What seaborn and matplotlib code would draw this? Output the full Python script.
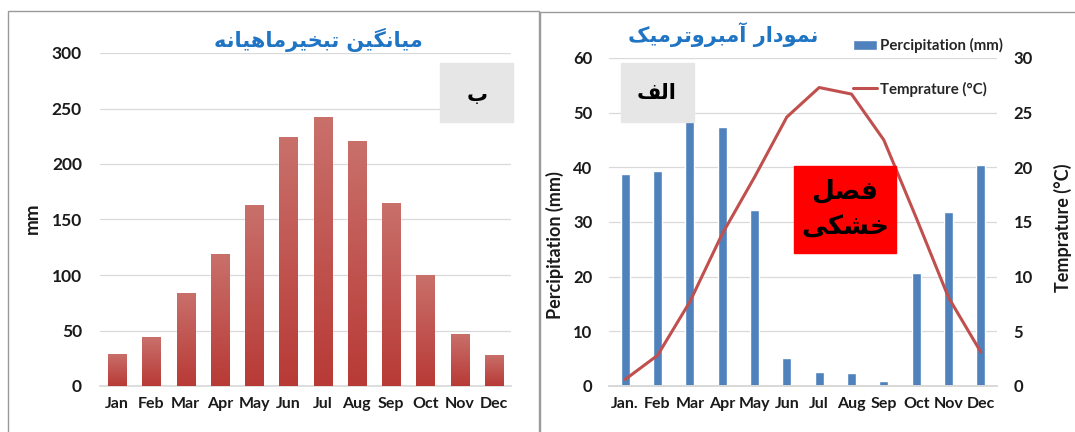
import numpy as np
import pandas as pd
import seaborn as sns
import matplotlib.pyplot as plt
from matplotlib.colors import LinearSegmentedColormap
from matplotlib.patches import Rectangle

# evaporation panel (ب)
evap_months = ["Jan", "Feb", "Mar", "Apr", "May", "Jun", "Jul", "Aug", "Sep", "Oct", "Nov", "Dec"]
evap_mm = [29, 44, 84, 119, 163, 224, 242, 221, 165, 100, 47, 28]

# ombrothermic panel (الف)
clim_months = ["Jan.", "Feb", "Mar", "Apr", "May", "Jun", "Jul", "Aug", "Sep", "Oct", "Nov", "Dec"]
precip_mm = [38.7, 39.3, 50.1, 47.4, 32.2, 5.1, 2.5, 2.3, 1.0, 20.7, 31.8, 40.5]
temp_c = [0.6, 2.8, 7.7, 13.9, 19.1, 24.6, 27.3, 26.7, 22.5, 15.4, 8.1, 3.1]

title_evap = "میانگین تبخیرماهیانه"
title_clim = "نمودار آمبروترمیک"
tag_evap = "ب"
tag_clim = "الف"
dry_season = ["فصل", "خشکی"]

# matplotlib does no arabic shaping, so pick presentation forms by hand
# (isolated, final, initial, medial); None = letter joins only to the right
FORMS = {
    "ا": ("\uFE8D", "\uFE8E", None, None),
    "آ": ("\uFE81", "\uFE82", None, None),
    "ب": ("\uFE8F", "\uFE90", "\uFE91", "\uFE92"),
    "ت": ("\uFE95", "\uFE96", "\uFE97", "\uFE98"),
    "خ": ("\uFEA5", "\uFEA6", "\uFEA7", "\uFEA8"),
    "د": ("\uFEA9", "\uFEAA", None, None),
    "ر": ("\uFEAD", "\uFEAE", None, None),
    "ش": ("\uFEB5", "\uFEB6", "\uFEB7", "\uFEB8"),
    "ص": ("\uFEB9", "\uFEBA", "\uFEBB", "\uFEBC"),
    "ف": ("\uFED1", "\uFED2", "\uFED3", "\uFED4"),
    "ل": ("\uFEDD", "\uFEDE", "\uFEDF", "\uFEE0"),
    "م": ("\uFEE1", "\uFEE2", "\uFEE3", "\uFEE4"),
    "ن": ("\uFEE5", "\uFEE6", "\uFEE7", "\uFEE8"),
    "ه": ("\uFEE9", "\uFEEA", "\uFEEB", "\uFEEC"),
    "و": ("\uFEED", "\uFEEE", None, None),
    "ی": ("\uFBFC", "\uFBFD", "\uFBFE", "\uFBFF"),
    "ک": ("\uFB8E", "\uFB8F", "\uFB90", "\uFB91"),
    "گ": ("\uFB92", "\uFB93", "\uFB94", "\uFB95"),
}


def fa(text):
    out = []
    for i, c in enumerate(text):
        if c not in FORMS:
            out.append(c)
            continue
        prev = text[i - 1] if i > 0 else None
        nxt = text[i + 1] if i + 1 < len(text) else None
        join_prev = prev in FORMS and FORMS[prev][2] is not None
        join_next = nxt in FORMS and FORMS[c][2] is not None
        iso, fin, ini, med = FORMS[c]
        if join_prev and join_next:
            out.append(med)
        elif join_prev:
            out.append(fin)
        elif join_next:
            out.append(ini)
        else:
            out.append(iso)
    return "".join(reversed(out))


sns.set_theme(style="white")
plt.rcParams["font.family"] = ["Lato", "DejaVu Sans"]
plt.rcParams["font.weight"] = "bold"

W, H = 1075, 432
fig = plt.figure(figsize=(W / 100, H / 100), dpi=100)


def fx(x):
    return x / W


def fy(y):
    return 1 - y / H


def box(x0, y0, x1, y1):
    return [fx(x0), fy(y1), fx(x1) - fx(x0), fy(y0) - fy(y1)]


# panel frames
fig.patches.append(Rectangle((fx(8), fy(440)), fx(539) - fx(8), fy(11) - fy(440),
                             transform=fig.transFigure, fill=False, ec="#9a9a9a", lw=1))
fig.patches.append(Rectangle((fx(540), fy(440)), fx(1090) - fx(540), fy(12) - fy(440),
                             transform=fig.transFigure, fill=False, ec="#9a9a9a", lw=1))

grid_c = "#d9d9d9"
ink = "#1a1a1a"

# ---------------- left: monthly evaporation ----------------
ax1 = fig.add_axes(box(100, 53, 511, 386))
df_e = pd.DataFrame({"month": evap_months, "mm": evap_mm})
sns.barplot(data=df_e, x="month", y="mm", color="#c0504d", width=0.53, ax=ax1,
            saturation=1, zorder=2)
grad = LinearSegmentedColormap.from_list("bar", ["#b83a36", "#c9706b"])
for p in ax1.patches:
    x0, y0 = p.get_x(), p.get_y()
    im = ax1.imshow(np.linspace(1, 0, 100).reshape(-1, 1), cmap=grad, aspect="auto",
                    extent=[x0, x0 + p.get_width(), y0, y0 + p.get_height()], zorder=3)
    im.set_clip_path(p)
ax1.set_xlim(-0.5, 11.5)
ax1.set_ylim(0, 300)
ax1.set_yticks(range(0, 301, 50))
ax1.grid(axis="y", color=grid_c, lw=0.9, zorder=0)
ax1.set_axisbelow(True)
for s in ["left", "right", "top"]:
    ax1.spines[s].set_visible(False)
ax1.spines["bottom"].set_color(grid_c)
ax1.tick_params(axis="both", length=0, colors=ink)
ax1.tick_params(axis="y", labelsize=12.5, pad=13)
ax1.tick_params(axis="x", labelsize=11.5, pad=8)
ax1.set_xlabel("")
ax1.set_ylabel("")
fig.text(fx(32), fy(218), "mm", rotation=90, ha="center", va="center", fontsize=13.5,
         fontweight="bold", color=ink)
fig.text(fx(318), fy(40), fa(title_evap), ha="center", va="center", fontsize=15,
         fontweight="bold", color="#1f74c4", family="DejaVu Sans")
fig.patches.append(Rectangle((fx(440), fy(122)), fx(513) - fx(440), fy(63) - fy(122),
                             transform=fig.transFigure, color="#e6e6e6", zorder=5))
fig.text(fx(477), fy(95), fa(tag_evap), ha="center", va="center", fontsize=15,
         fontweight="bold", color="black", family="DejaVu Sans", zorder=6)

# ---------------- right: ombrothermic diagram ----------------
ax2 = fig.add_axes(box(609, 58, 997, 386))
df_c = pd.DataFrame({"month": clim_months, "precip": precip_mm, "temp": temp_c})
sns.barplot(data=df_c, x="month", y="precip", color="#4f81bd", width=0.28, ax=ax2,
            saturation=1, label="Percipitation (mm)", zorder=2)
ax2.set_xlim(-0.5, 11.5)
ax2.set_ylim(0, 60)
ax2.set_yticks(range(0, 61, 10))
ax2.grid(axis="y", color=grid_c, lw=0.9, zorder=0)
ax2.set_axisbelow(True)

ax3 = ax2.twinx()
sns.lineplot(x=np.arange(len(temp_c)), y=df_c["temp"], ax=ax3, color="#c0504d", lw=2.2,
             label="Temprature (°C)", zorder=4)
ax3.set_ylim(0, 30)
ax3.set_yticks(range(0, 31, 5))
ax3.set_xlim(-0.5, 11.5)

for a in (ax2, ax3):
    for s in ["left", "right", "top"]:
        a.spines[s].set_visible(False)
    a.spines["bottom"].set_color(grid_c)
    a.tick_params(axis="both", length=0, colors=ink)
    a.tick_params(axis="y", labelsize=12)
    a.set_xlabel("")
    a.set_ylabel("")
ax2.tick_params(axis="y", pad=12)
ax3.tick_params(axis="y", pad=12)
ax2.tick_params(axis="x", labelsize=11.5, pad=8)

fig.text(fx(555), fy(245), "Percipitation (mm)", rotation=90, ha="center", va="center",
         fontsize=13, fontweight="bold", color=ink)
fig.text(fx(1063), fy(228), "Temprature (°C)", rotation=90, ha="center", va="center",
         fontsize=13, fontweight="bold", color=ink)

h2, l2 = ax2.get_legend_handles_labels()
h3, l3 = ax3.get_legend_handles_labels()
for a in (ax2, ax3):
    if a.get_legend() is not None:
        a.get_legend().remove()
fig.legend(h2 + h3, l2 + l3, loc="upper left", bbox_to_anchor=(fx(853), fy(38)),
           frameon=False, borderpad=0, borderaxespad=0,
           handlelength=1.6, handletextpad=0.2, labelspacing=1.9,
           prop={"weight": "bold", "size": 10.8})

fig.text(fx(723), fy(35), fa(title_clim), ha="center", va="center", fontsize=15,
         fontweight="bold", color="#1f74c4", family="DejaVu Sans")
fig.patches.append(Rectangle((fx(621), fy(122)), fx(694) - fx(621), fy(63) - fy(122),
                             transform=fig.transFigure, color="#e6e6e6", zorder=5))
fig.text(fx(657), fy(93), fa(tag_clim), ha="center", va="center", fontsize=15,
         fontweight="bold", color="black", family="DejaVu Sans", zorder=6)
fig.patches.append(Rectangle((fx(794), fy(253)), fx(896) - fx(794), fy(166) - fy(253),
                             transform=fig.transFigure, color="#ff0000", zorder=5))
fig.text(fx(845), fy(191), fa(dry_season[0]), ha="center", va="center", fontsize=19,
         fontweight="bold", color="black", family="DejaVu Sans", zorder=6)
fig.text(fx(845), fy(228), fa(dry_season[1]), ha="center", va="center", fontsize=19,
         fontweight="bold", color="black", family="DejaVu Sans", zorder=6)

fig.savefig("out.png", dpi=100)
